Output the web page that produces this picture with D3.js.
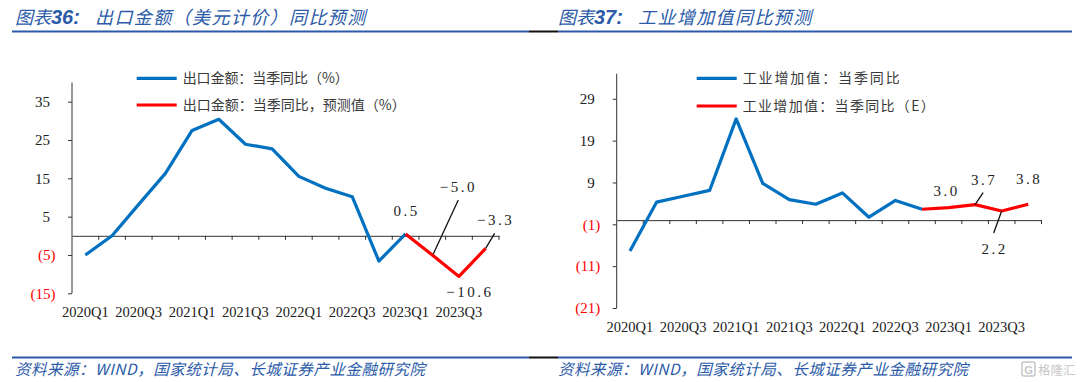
<!DOCTYPE html>
<html><head><meta charset="utf-8">
<script src="https://cdn.jsdelivr.net/npm/d3@7"></script>
<style>
html,body{margin:0;padding:0;background:#fff;}
svg{display:block;}
</style></head>
<body>
<svg id="c" width="1080" height="382"></svg>
<script>
// ---------- data ----------
const categories = ["2020Q1","2020Q2","2020Q3","2020Q4","2021Q1","2021Q2","2021Q3","2021Q4",
                    "2022Q1","2022Q2","2022Q3","2022Q4","2023Q1","2023Q2","2023Q3","2023Q4"];
const xTickLabels = ["2020Q1","2020Q3","2021Q1","2021Q3","2022Q1","2022Q3","2023Q1","2023Q3"];

// Chart 36: exports (USD) YoY
const exportActual   = [-5.0, 0.0, 8.2, 16.3, 27.5, 30.4, 23.9, 22.7, 15.5, 12.4, 10.2, -6.6, 0.5, null, null, null];
const exportForecast = [null, null, null, null, null, null, null, null, null, null, null, null, 0.5, -5.0, -10.6, -3.3];
const exportYTicks   = [-15, -5, 5, 15, 25, 35];
const exportDomain   = [-15, 40];

// Chart 37: industrial value added YoY
const ivaActual   = [-7.4, 4.3, 5.7, 7.1, 24.2, 8.8, 4.9, 3.8, 6.5, 0.7, 4.7, 2.6, null, null, null, null];
const ivaForecast = [null, null, null, null, null, null, null, null, null, null, null, 2.6, 3.0, 3.7, 2.2, 3.8];
const ivaYTicks   = [-21, -11, -1, 9, 19, 29];
const ivaDomain   = [-21, 35];

// ---------- drawing ----------
const svg = d3.select("#c");
const BLUE = "#0070C0", RED = "#FF0000", TITLE = "#2B5BA8";
const serif = "'Liberation Serif','Times New Roman',serif";
const cjk = "'Noto Sans CJK SC','Noto Sans',sans-serif";

// header/footer rules
function rule(y){
  svg.append("line").attr("x1",12).attr("x2",529).attr("y1",y).attr("y2",y).attr("stroke",TITLE).attr("stroke-width",2);
  svg.append("line").attr("x1",529).attr("x2",558).attr("y1",y).attr("y2",y).attr("stroke","#111").attr("stroke-width",2);
  svg.append("line").attr("x1",558).attr("x2",1072).attr("y1",y).attr("y2",y).attr("stroke",TITLE).attr("stroke-width",2);
}
rule(31.5); rule(357.5);

function title(x, num, main){
  const t = svg.append("text").attr("x",x).attr("y",24).attr("fill",TITLE)
    .attr("font-family",cjk).attr("font-size",18).attr("font-style","italic");
  t.append("tspan").text("图表");
  t.append("tspan").attr("font-family","'Liberation Sans',Arial,sans-serif").attr("font-weight","bold").attr("font-size",20).text(num + ":");
  svg.append("text").attr("x",x+80).attr("y",24).attr("fill",TITLE)
    .attr("font-family",cjk).attr("font-size",18).attr("font-style","italic")
    .attr("letter-spacing",1.4).text(main);
}
title(15, "36", "出口金额（美元计价）同比预测");
title(558, "37", "工业增加值同比预测");

function source(x){
  svg.append("text").attr("x",x).attr("y",375).attr("fill",TITLE)
    .attr("font-family",cjk).attr("font-size",15.5).attr("font-style","italic")
    .attr("textLength",410).attr("lengthAdjust","spacing")
    .text("资料来源：WIND，国家统计局、长城证券产业金融研究院");
}
source(15); source(558);

// watermark logo
const lg = svg.append("g").attr("opacity",0.55);
lg.append("rect").attr("x",1022).attr("y",362).attr("width",13).attr("height",14).attr("rx",2)
  .attr("fill","none").attr("stroke","#999").attr("stroke-width",1.5);
lg.append("text").attr("x",1028.5).attr("y",373.5).attr("text-anchor","middle").attr("font-family","'Liberation Sans',sans-serif")
  .attr("font-size",11).attr("font-weight","bold").attr("fill","#999").text("G");
lg.append("text").attr("x",1038).attr("y",374.5).attr("font-family",cjk).attr("font-size",12.5).attr("fill","#999").text("格隆汇");

function chart(cfg){
  const g = svg.append("g");
  const x = d3.scaleBand().domain(categories).range([cfg.x0, cfg.x1]);
  const y = d3.scaleLinear().domain(cfg.domain).range([cfg.yBottom, cfg.yTop]);
  const y0 = y(0);

  // y axis
  const yAxis = d3.axisLeft(y).tickValues(cfg.yTicks).tickSize(4).tickFormat("");
  const ya = g.append("g").attr("transform",`translate(${cfg.x0},0)`).call(yAxis);
  ya.select(".domain").attr("stroke","#333").attr("d",`M-0,${y(cfg.domain[0])}H0V${y(cfg.domain[1])}`);
  ya.selectAll(".tick line").attr("stroke","#333");
  cfg.yTicks.forEach(v=>{
    g.append("text").attr("x", v<0 ? cfg.x0-16.5 : cfg.x0-22)
      .attr("y", y(v)).attr("dy","0.35em").attr("text-anchor","end")
      .attr("font-family",serif).attr("font-size",15)
      .attr("fill", v<0 ? RED : "#222")
      .text(v<0 ? `(${Math.abs(v)})` : v);
  });

  // x axis along zero
  const xa = g.append("g").attr("transform",`translate(0,${y0})`)
    .call(d3.axisBottom(x).tickSize(0).tickFormat(""));
  xa.select(".domain").attr("stroke","#333");
  const bounds = categories.map((c,i)=> x(c) + x.bandwidth());
  g.selectAll(".xt").data(bounds).enter().append("line")
    .attr("x1",d=>d).attr("x2",d=>d).attr("y1",y0).attr("y2",y0+4).attr("stroke","#333");
  g.selectAll(".xl").data(xTickLabels).enter().append("text")
    .attr("x",d=>x(d)+x.bandwidth()/2).attr("y",cfg.labelY)
    .attr("text-anchor","middle").attr("font-family",serif).attr("font-size",14.5)
    .attr("fill","#222").text(d=>d);

  // lines
  const line = d3.line().defined(d=>d.v!=null).x(d=>x(d.c)+x.bandwidth()/2).y(d=>y(d.v));
  const mk = arr => categories.map((c,i)=>({c, v:arr[i]}));
  g.append("path").datum(mk(cfg.actual)).attr("d",line).attr("fill","none")
    .attr("stroke",BLUE).attr("stroke-width",3.2).attr("stroke-linejoin","round");
  g.append("path").datum(mk(cfg.forecast)).attr("d",line).attr("fill","none")
    .attr("stroke",RED).attr("stroke-width",3.2).attr("stroke-linejoin","round");

  // annotations
  cfg.annotations.forEach(a=>{
    const px = x(categories[a.i]) + x.bandwidth()/2, py = y(a.v);
    if (a.leader) {
      g.append("line").attr("x1",px+a.leader[0]).attr("y1",py+a.leader[1])
        .attr("x2",px+a.leader[2]).attr("y2",py+a.leader[3]).attr("stroke","#111").attr("stroke-width",1.3);
    }
    g.append("text").attr("x",px+a.dx).attr("y",py+a.dy).attr("text-anchor","middle")
      .attr("font-family",serif).attr("font-size",15).attr("letter-spacing",2.5).attr("fill","#222")
      .text((a.v<0?"−":"") + Math.abs(a.v).toFixed(1));
  });

  // legend
  cfg.legend.forEach((L,k)=>{
    const ly = cfg.legendY[k];
    g.append("line").attr("x1",cfg.legendX).attr("x2",cfg.legendX+40).attr("y1",ly).attr("y2",ly)
      .attr("stroke",L.color).attr("stroke-width",3.2);
    g.append("text").attr("x",cfg.legendX+46).attr("y",ly).attr("dy","0.36em")
      .attr("font-family",cjk).attr("font-size",14).attr("fill","#3a3a3a")
      .attr("textLength",L.w).attr("lengthAdjust","spacing").text(L.text);
  });
}

chart({
  x0:72, x1:499, yTop:82.5, yBottom:293.3, domain:exportDomain, yTicks:exportYTicks, labelY:316.5,
  actual:exportActual, forecast:exportForecast,
  legendX:136.7, legendY:[78.3,105],
  legend:[{text:"出口金额：当季同比（%）", color:BLUE, w:166},
          {text:"出口金额：当季同比，预测值（%）", color:RED, w:223}],
  annotations:[
    {i:12, v:0.5, dx:1, dy:-18},
    {i:13, v:-5.0, dx:26, dy:-63, leader:[1,-1,26,-55]},
    {i:15, v:-3.3, dx:10, dy:-23, leader:[0,0,9,-15]},
    {i:14, v:-10.6, dx:11, dy:21}
  ]
});

chart({
  x0:616.7, x1:1041.5, yTop:73.7, yBottom:308, domain:ivaDomain, yTicks:ivaYTicks, labelY:331.5,
  actual:ivaActual, forecast:ivaForecast,
  legendX:696.7, legendY:[78.3,106],
  legend:[{text:"工业增加值：当季同比", color:BLUE, w:157},
          {text:"工业增加值：当季同比（E）", color:RED, w:192}],
  annotations:[
    {i:12, v:3.0, dx:-2, dy:-12},
    {i:13, v:3.7, dx:9, dy:-20, leader:[0,0,8,-12]},
    {i:15, v:3.8, dx:1, dy:-20},
    {i:14, v:2.2, dx:-7, dy:43, leader:[0,0,-8,22]}
  ]
});
</script>
</body></html>
